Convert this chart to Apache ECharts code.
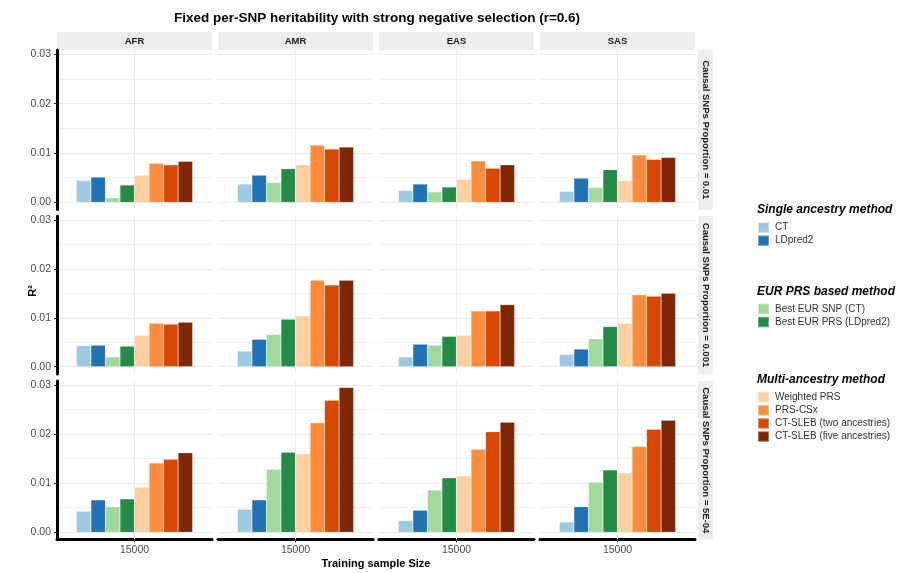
<!DOCTYPE html>
<html>
<head>
<meta charset="utf-8">
<script src="https://cdn.jsdelivr.net/npm/echarts@6/dist/echarts.min.js"></script>
<style>
  html, body { margin: 0; padding: 0; background: #fff; }
  #chart { width: 898px; height: 573px; }
</style>
</head>
<body>
<div id="chart"></div>
<script>
// Facet labels
const ancestries = ['AFR', 'AMR', 'EAS', 'SAS'];
const proportions = ['0.01', '0.001', '5E-04'];
const sampleSizes = ['15000'];
const yTicks = [0, 0.01, 0.02, 0.03];

// Methods, in legend / dodge order
const methods = [
  'CT', 'LDpred2',
  'Best EUR SNP (CT)', 'Best EUR PRS (LDpred2)',
  'Weighted PRS', 'PRS-CSx', 'CT-SLEB (two ancestries)', 'CT-SLEB (five ancestries)'
];
const methodColors = ['#9ecae1', '#2171b5', '#a1d99b', '#238b45', '#fdd0a2', '#fd8d3c', '#d94801', '#7f2704'];

// R2 per method, causal SNP proportion = 0.01
const p01_AFR = [0.0044, 0.0051, 0.0009, 0.0035, 0.0055, 0.0079, 0.0076, 0.0083];
const p01_AMR = [0.0037, 0.0055, 0.0040, 0.0068, 0.0076, 0.0116, 0.0108, 0.0112];
const p01_EAS = [0.0024, 0.0037, 0.0021, 0.0031, 0.0047, 0.0084, 0.0069, 0.0076];
const p01_SAS = [0.0022, 0.0049, 0.0030, 0.0066, 0.0044, 0.0096, 0.0087, 0.0091];
// causal SNP proportion = 0.001
const p001_AFR = [0.0043, 0.0044, 0.0020, 0.0042, 0.0064, 0.0089, 0.0087, 0.0091];
const p001_AMR = [0.0032, 0.0056, 0.0066, 0.0097, 0.0104, 0.0177, 0.0167, 0.0177];
const p001_EAS = [0.0020, 0.0046, 0.0044, 0.0062, 0.0064, 0.0114, 0.0114, 0.0127];
const p001_SAS = [0.0025, 0.0036, 0.0057, 0.0082, 0.0089, 0.0147, 0.0144, 0.0150];
// causal SNP proportion = 5E-04
const p5e4_AFR = [0.0043, 0.0066, 0.0052, 0.0068, 0.0092, 0.0141, 0.0149, 0.0162];
const p5e4_AMR = [0.0047, 0.0066, 0.0128, 0.0163, 0.0160, 0.0223, 0.0269, 0.0295];
const p5e4_EAS = [0.0024, 0.0045, 0.0086, 0.0111, 0.0115, 0.0169, 0.0205, 0.0224];
const p5e4_SAS = [0.0021, 0.0052, 0.0102, 0.0127, 0.0121, 0.0175, 0.0210, 0.0228];

const panelValues = [
  [p01_AFR, p01_AMR, p01_EAS, p01_SAS],
  [p001_AFR, p001_AMR, p001_EAS, p001_SAS],
  [p5e4_AFR, p5e4_AMR, p5e4_EAS, p5e4_SAS]
];

const legendGroups = [
  { title: 'Single ancestry method', items: methods.slice(0, 2) },
  { title: 'EUR PRS based method', items: methods.slice(2, 4) },
  { title: 'Multi-ancestry method', items: methods.slice(4, 8) }
];

// Page layout (pixels)
const FONT = '"Liberation Sans", Arial, Helvetica, sans-serif';
const colLeft = [57, 218, 379, 540];
const colWidth = 155;
const rowDataTop = [54.3, 220, 385];     // y of 0.03
const rowDataBottom = [202.3, 366.7, 532.3]; // y of 0
const rowPanelTop = [50, 216, 381];
const rowPanelBottom = [209.5, 374, 539.5];
const stripTop = 32, stripHeight = 18;
const sideStripX = 698, sideStripWidth = 15;
const legendLeft = 757;
const legendTitleY = [209.5, 291.7, 380];
const legendTop = [221.3, 302.7, 391];

const grids = [], xAxes = [], yAxes = [], series = [], graphics = [];

// Data grids: one per facet panel
proportions.forEach((p, r) => {
  ancestries.forEach((a, c) => {
    const g = grids.length;
    grids.push({ left: colLeft[c], width: colWidth, top: rowDataTop[r], height: rowDataBottom[r] - rowDataTop[r] });
    xAxes.push({
      gridIndex: g, type: 'category', data: sampleSizes, show: false
    });
    yAxes.push({
      gridIndex: g, type: 'value', min: 0, max: yTicks[yTicks.length - 1], interval: 0.01,
      axisLine: { show: false },
      axisTick: { show: c === 0, length: 3, lineStyle: { color: '#333', width: 1 } },
      axisLabel: {
        show: c === 0, margin: 6, fontSize: 10.5, color: '#4d4d4d', fontFamily: FONT,
        formatter: v => v.toFixed(2)
      },
      splitLine: { show: true, lineStyle: { color: '#ebebeb', width: 1 } },
      minorTick: { show: false, splitNumber: 2 },
      minorSplitLine: { show: true, lineStyle: { color: '#f2f2f2', width: 1 } }
    });
    methods.forEach((m, k) => {
      series.push({
        type: 'bar', name: m, xAxisIndex: g, yAxisIndex: g,
        data: [panelValues[r][c][k]],
        barGap: '0%', barCategoryGap: '25%',
        itemStyle: { color: methodColors[k], borderColor: 'rgba(255,255,255,0.35)', borderWidth: 0.5 },
        emphasis: { disabled: true },
        z: 3
      });
    });
  });
});

// Frame grids: full panel extent, carrying the thick axis lines and the vertical grid line
proportions.forEach((p, r) => {
  ancestries.forEach((a, c) => {
    const g = grids.length;
    const bottomRow = r === proportions.length - 1;
    grids.push({ left: colLeft[c], width: colWidth, top: rowPanelTop[r], height: rowPanelBottom[r] - rowPanelTop[r] });
    xAxes.push({
      gridIndex: g, type: 'category', data: sampleSizes,
      axisLine: { show: bottomRow, lineStyle: { color: '#000', width: 3 } },
      axisTick: { show: bottomRow, alignWithLabel: true, length: 3, lineStyle: { color: '#333' } },
      axisLabel: { show: bottomRow, margin: 5, fontSize: 10.5, color: '#4d4d4d', fontFamily: FONT },
      splitLine: { show: false }
    });
    yAxes.push({
      gridIndex: g, type: 'value', min: 0, max: 1,
      axisLine: { show: c === 0, lineStyle: { color: '#000', width: 3 } },
      axisTick: { show: false }, axisLabel: { show: false }, splitLine: { show: false }
    });
    series.push({
      type: 'line', name: 'vgrid-' + g, xAxisIndex: g, yAxisIndex: g, data: [],
      silent: true, z: 1,
      markLine: {
        silent: true, symbol: 'none', label: { show: false },
        lineStyle: { color: '#ebebeb', width: 1, type: 'solid' },
        emphasis: { disabled: true },
        data: [{ xAxis: sampleSizes[0] }]
      }
    });
  });
});

// Top strips
ancestries.forEach((a, c) => {
  graphics.push({
    type: 'rect', silent: true,
    shape: { x: colLeft[c], y: stripTop, width: colWidth, height: stripHeight },
    style: { fill: '#eeeeee' }
  });
  graphics.push({
    type: 'text', silent: true,
    style: {
      x: colLeft[c] + colWidth / 2, y: stripTop + stripHeight / 2, text: a,
      align: 'center', verticalAlign: 'middle',
      font: 'bold 9.5px ' + FONT, fill: '#1a1a1a'
    }
  });
});

// Side strips
proportions.forEach((p, r) => {
  const top = rowPanelTop[r], h = rowPanelBottom[r] - rowPanelTop[r];
  graphics.push({
    type: 'rect', silent: true,
    shape: { x: sideStripX, y: top, width: sideStripWidth, height: h },
    style: { fill: '#eeeeee' }
  });
  graphics.push({
    type: 'text', silent: true,
    x: sideStripX + sideStripWidth / 2, y: top + h / 2, rotation: -Math.PI / 2,
    style: {
      x: 0, y: 0, text: 'Causal SNPs Proportion = ' + p,
      align: 'center', verticalAlign: 'middle',
      font: 'bold 9.5px ' + FONT, fill: '#1a1a1a'
    }
  });
});

// Plot title and axis titles
graphics.push({
  type: 'text', silent: true,
  style: {
    x: 377, y: 18, text: 'Fixed per-SNP heritability with strong negative selection (r=0.6)',
    align: 'center', verticalAlign: 'middle', font: 'bold 13.5px ' + FONT, fill: '#000'
  }
});
graphics.push({
  type: 'text', silent: true,
  style: {
    x: 376, y: 564, text: 'Training sample Size',
    align: 'center', verticalAlign: 'middle', font: 'bold 11px ' + FONT, fill: '#000'
  }
});
graphics.push({
  type: 'text', silent: true,
  x: 33, y: 291, rotation: Math.PI / 2,
  style: {
    x: 0, y: 0, text: 'R²',
    align: 'center', verticalAlign: 'middle', font: 'bold 11px ' + FONT, fill: '#000'
  }
});

// Legend group titles
legendGroups.forEach((grp, i) => {
  graphics.push({
    type: 'text', silent: true,
    style: {
      x: legendLeft, y: legendTitleY[i], text: grp.title,
      align: 'left', verticalAlign: 'middle',
      font: 'italic bold 12px ' + FONT, fill: '#000'
    }
  });
});

const legends = legendGroups.map((grp, i) => ({
  orient: 'vertical', left: legendLeft, top: legendTop[i], padding: 0,
  data: grp.items, icon: 'rect', itemWidth: 11, itemHeight: 10.5, itemGap: 0.6,
  selectedMode: false,
  textStyle: { fontSize: 10, lineHeight: 10.5, color: '#333', fontFamily: FONT, padding: [0, 0, 0, 1] }
}));

const chart = echarts.init(document.getElementById('chart'), null, { renderer: 'canvas' });
chart.setOption({
  animation: false,
  backgroundColor: '#ffffff',
  textStyle: { fontFamily: FONT },
  grid: grids,
  xAxis: xAxes,
  yAxis: yAxes,
  legend: legends,
  series: series,
  graphic: graphics
});
</script>
</body>
</html>
